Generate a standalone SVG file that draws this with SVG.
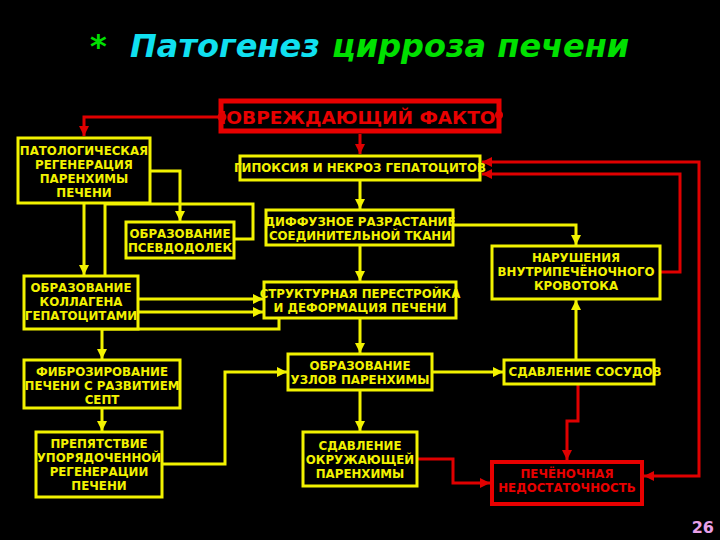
<svg xmlns="http://www.w3.org/2000/svg" width="720" height="540" viewBox="0 0 720 540">
<style>
.bx{fill:#000;stroke:#f2f200;stroke-width:3}
.rb{fill:none;stroke:#e80000;stroke-width:5}
.t{font-family:"DejaVu Sans","Liberation Sans",sans-serif;font-weight:bold;font-size:11.8px;fill:#f2f200;text-anchor:middle}
.tr{font-family:"DejaVu Sans","Liberation Sans",sans-serif;font-weight:bold;fill:#e80000;text-anchor:middle}
.y{fill:none;stroke:#f2f200;stroke-width:3}
.r{fill:none;stroke:#e00000;stroke-width:3}
</style>
<defs>
<marker id="ay" viewBox="0 0 10 10" refX="10" refY="5" markerUnits="userSpaceOnUse" markerWidth="10" markerHeight="10" orient="auto-start-reverse"><path d="M0,0 L10,5 L0,10 z" fill="#f2f200"/></marker>
<marker id="ar" viewBox="0 0 10 10" refX="10" refY="5" markerUnits="userSpaceOnUse" markerWidth="10" markerHeight="10" orient="auto-start-reverse"><path d="M0,0 L10,5 L0,10 z" fill="#e00000"/></marker>
<clipPath id="cf"><rect x="220" y="98" width="280" height="36"/></clipPath>
</defs>
<rect width="720" height="540" fill="#000"/>
<g id="title" font-family="DejaVu Sans,Liberation Sans,sans-serif" font-weight="bold" font-style="italic" font-size="32">
<text x="90" y="57" fill="#00e000">*</text>
<text x="130" y="57" fill="#10e0f0">Патогенез</text>
<text x="332" y="57" fill="#00e000">цирроза печени</text>
</g>
<g id="connectors">
<path class="r" d="M222,117 H84 V136" marker-end="url(#ar)"/>
<path class="r" d="M360,134 V154" marker-end="url(#ar)"/>
<path class="y" d="M360,181 V209" marker-end="url(#ay)"/>
<path class="y" d="M360,245 V281" marker-end="url(#ay)"/>
<path class="y" d="M360,318 V353" marker-end="url(#ay)"/>
<path class="y" d="M360,390 V431" marker-end="url(#ay)"/>
<path class="y" d="M432,372 H503" marker-end="url(#ay)"/>
<path class="y" d="M576,360 V300" marker-end="url(#ay)"/>
<path class="y" d="M453,225 H576 V245" marker-end="url(#ay)"/>
<path class="y" d="M150,171 H180 V221" marker-end="url(#ay)"/>
<path class="y" d="M84,204 V275" marker-end="url(#ay)"/>
<path class="y" d="M235,239 H253 V204 H105 V299 H263" marker-end="url(#ay)"/>
<path class="y" d="M138,312 H263" marker-end="url(#ay)"/>
<path class="y" d="M279,318 V329 H102 V359" marker-end="url(#ay)"/>
<path class="y" d="M102,408 V431" marker-end="url(#ay)"/>
<path class="y" d="M162,464 H225 V372 H287" marker-end="url(#ay)"/>
<path class="r" d="M660,272 H680 V174 H482" marker-end="url(#ar)"/>
<path class="r" d="M482,162 H699 V476 H644" marker-start="url(#ar)" marker-end="url(#ar)"/>
<path class="r" d="M578,384 V421 H567 V460" marker-end="url(#ar)"/>
<path class="r" d="M417,459 H453 V483 H490" marker-end="url(#ar)"/>
</g>
<g id="n-factor">
<rect x="221" y="101" width="278" height="30" fill="#000"/>
<text class="tr" x="360" y="124" font-size="18.5" clip-path="url(#cf)">ПОВРЕЖДАЮЩИЙ ФАКТОР</text>
<rect class="rb" x="221" y="101" width="278" height="30"/>
<circle cx="222" cy="117" r="4.5" fill="#e00000"/>
<circle cx="499" cy="115" r="4" fill="#e00000"/>
</g>
<g id="n-patreg"><rect class="bx" x="18" y="138" width="132" height="65"/>
<text class="t" x="84" y="155">ПАТОЛОГИЧЕСКАЯ</text><text class="t" x="84" y="169">РЕГЕНЕРАЦИЯ</text><text class="t" x="84" y="183">ПАРЕНХИМЫ</text><text class="t" x="84" y="197">ПЕЧЕНИ</text></g>
<g id="n-hypoxia"><rect class="bx" x="240" y="156" width="240" height="24"/>
<text class="t" x="360" y="172">ГИПОКСИЯ И НЕКРОЗ ГЕПАТОЦИТОВ</text></g>
<g id="n-diffuse"><rect class="bx" x="266" y="210" width="187" height="35"/>
<text class="t" x="360" y="226">ДИФФУЗНОЕ РАЗРАСТАНИЕ</text><text class="t" x="360" y="240">СОЕДИНИТЕЛЬНОЙ ТКАНИ</text></g>
<g id="n-pseudo"><rect class="bx" x="126" y="222" width="108" height="36"/>
<text class="t" x="180" y="238">ОБРАЗОВАНИЕ</text><text class="t" x="180" y="252">ПСЕВДОДОЛЕК</text></g>
<g id="n-flow"><rect class="bx" x="492" y="246" width="168" height="53"/>
<text class="t" x="576" y="262">НАРУШЕНИЯ</text><text class="t" x="576" y="276">ВНУТРИПЕЧЁНОЧНОГО</text><text class="t" x="576" y="290">КРОВОТОКА</text></g>
<g id="n-collagen"><rect class="bx" x="24" y="276" width="114" height="53"/>
<text class="t" x="81" y="292">ОБРАЗОВАНИЕ</text><text class="t" x="81" y="306">КОЛЛАГЕНА</text><text class="t" x="81" y="320">ГЕПАТОЦИТАМИ</text></g>
<g id="n-struct"><rect class="bx" x="264" y="282" width="192" height="36"/>
<text class="t" x="360" y="298">СТРУКТУРНАЯ ПЕРЕСТРОЙКА</text><text class="t" x="360" y="312">И ДЕФОРМАЦИЯ ПЕЧЕНИ</text></g>
<g id="n-fibro"><rect class="bx" x="24" y="360" width="156" height="48"/>
<text class="t" x="102" y="376">ФИБРОЗИРОВАНИЕ</text><text class="t" x="102" y="390">ПЕЧЕНИ С РАЗВИТИЕМ</text><text class="t" x="102" y="404">СЕПТ</text></g>
<g id="n-nodes"><rect class="bx" x="288" y="354" width="144" height="36"/>
<text class="t" x="360" y="370">ОБРАЗОВАНИЕ</text><text class="t" x="360" y="384">УЗЛОВ ПАРЕНХИМЫ</text></g>
<g id="n-vessels"><rect class="bx" x="504" y="360" width="150" height="24"/>
<text class="t" x="585" y="376">СДАВЛЕНИЕ СОСУДОВ</text></g>
<g id="n-obstacle"><rect class="bx" x="36" y="432" width="126" height="65"/>
<text class="t" x="99" y="448">ПРЕПЯТСТВИЕ</text><text class="t" x="99" y="462">УПОРЯДОЧЕННОЙ</text><text class="t" x="99" y="476">РЕГЕНЕРАЦИИ</text><text class="t" x="99" y="490">ПЕЧЕНИ</text></g>
<g id="n-compress"><rect class="bx" x="303" y="432" width="114" height="54"/>
<text class="t" x="360" y="450">СДАВЛЕНИЕ</text><text class="t" x="360" y="464">ОКРУЖАЮЩЕЙ</text><text class="t" x="360" y="478">ПАРЕНХИМЫ</text></g>
<g id="n-failure"><rect x="492" y="462" width="150" height="42" fill="#000" stroke="#e80000" stroke-width="4"/>
<text class="tr" x="567" y="478" font-size="11.8">ПЕЧЁНОЧНАЯ</text><text class="tr" x="567" y="492" font-size="11.8">НЕДОСТАТОЧНОСТЬ</text></g>
<text x="714" y="533" font-family="DejaVu Sans,Liberation Sans,sans-serif" font-weight="bold" font-size="16" fill="#e8a0e8" text-anchor="end">26</text>
</svg>
